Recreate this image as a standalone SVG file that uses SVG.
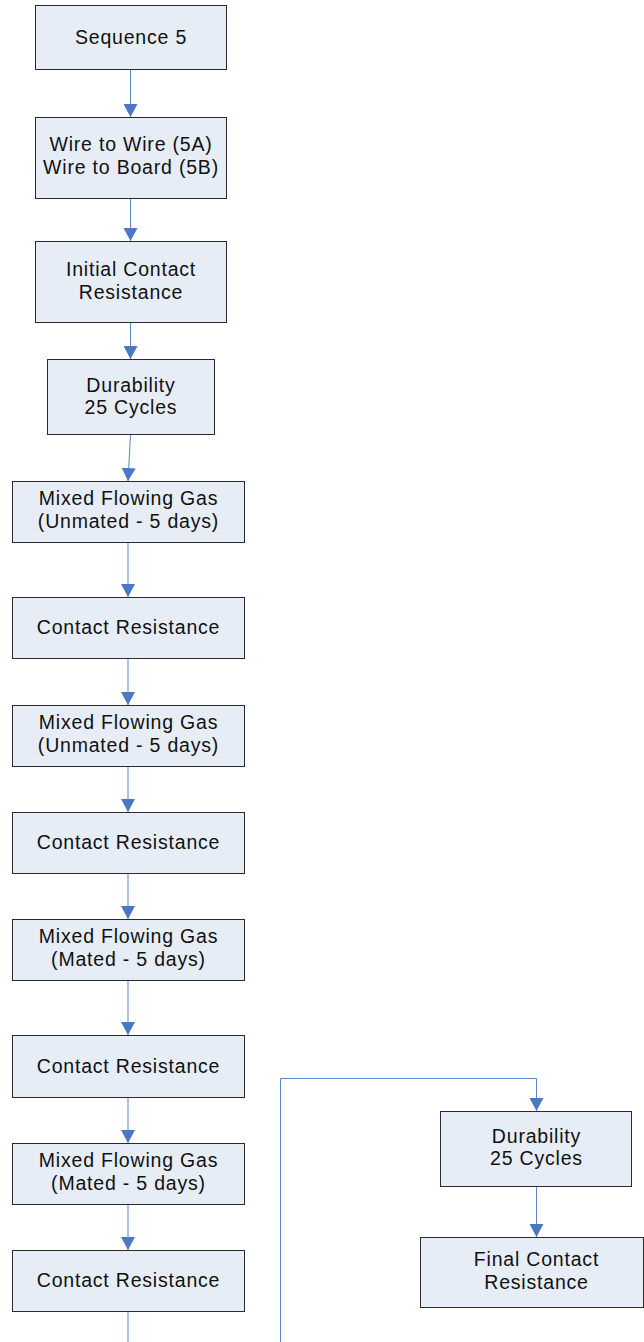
<svg xmlns="http://www.w3.org/2000/svg" width="644" height="1342" viewBox="0 0 644 1342">
<defs>
<style>
.box{fill:#E7EDF7;stroke:#2b2b2b;stroke-width:1}
.t{font-family:"Liberation Sans",Arial,sans-serif;font-size:19.5px;letter-spacing:0.8px;fill:#111;text-anchor:middle}
.c{fill:none;stroke:#5B87CC;stroke-width:1}
</style>
<marker id="ah" markerUnits="userSpaceOnUse" markerWidth="13" markerHeight="14" viewBox="0 0 12 13" refX="12" refY="6.5" orient="auto">
<path d="M0,0 L12,6.5 L0,13 z" fill="#4A78C4"/>
</marker>
</defs>
<rect width="644" height="1342" fill="#ffffff"/>
<g id="connectors">
<line class="c" x1="130.5" y1="69.5" x2="130.5" y2="117" marker-end="url(#ah)"/>
<line class="c" x1="130.5" y1="198.5" x2="130.5" y2="241" marker-end="url(#ah)"/>
<line class="c" x1="130.5" y1="322.5" x2="130.5" y2="359" marker-end="url(#ah)"/>
<line class="c" x1="130.5" y1="434.5" x2="128" y2="481" marker-end="url(#ah)"/>
<line class="c" x1="128" y1="542.5" x2="128" y2="597" marker-end="url(#ah)"/>
<line class="c" x1="128" y1="658.5" x2="128" y2="705" marker-end="url(#ah)"/>
<line class="c" x1="128" y1="766.5" x2="128" y2="812" marker-end="url(#ah)"/>
<line class="c" x1="128" y1="873.5" x2="128" y2="919" marker-end="url(#ah)"/>
<line class="c" x1="128" y1="980.5" x2="128" y2="1035" marker-end="url(#ah)"/>
<line class="c" x1="128" y1="1097.5" x2="128" y2="1143" marker-end="url(#ah)"/>
<line class="c" x1="128" y1="1204.5" x2="128" y2="1250" marker-end="url(#ah)"/>
<line class="c" x1="128" y1="1311.5" x2="128" y2="1342"/>
<polyline class="c" points="280.5,1342 280.5,1078.5 536.5,1078.5 536.5,1111" marker-end="url(#ah)"/>
<line class="c" x1="536.5" y1="1186.5" x2="536.5" y2="1237" marker-end="url(#ah)"/>
</g>
<g id="n1"><rect class="box" x="35.5" y="5.5" width="191" height="64"/><text class="t" x="131" y="43.5">Sequence 5</text></g>
<g id="n2"><rect class="box" x="35.5" y="117.5" width="191" height="81"/><text class="t" x="131" y="151">Wire to Wire (5A)</text><text class="t" x="131" y="174">Wire to Board (5B)</text></g>
<g id="n3"><rect class="box" x="35.5" y="241.5" width="191" height="81"/><text class="t" x="131" y="275.5">Initial Contact</text><text class="t" x="131" y="298.5">Resistance</text></g>
<g id="n4"><rect class="box" x="47.5" y="359.5" width="167" height="75"/><text class="t" x="131" y="391.5">Durability</text><text class="t" x="131" y="413.5">25 Cycles</text></g>
<g id="n5"><rect class="box" x="12.5" y="481.5" width="232" height="61"/><text class="t" x="128.5" y="505">Mixed Flowing Gas</text><text class="t" x="128.5" y="528">(Unmated - 5 days)</text></g>
<g id="n6"><rect class="box" x="12.5" y="597.5" width="232" height="61"/><text class="t" x="128.5" y="634">Contact Resistance</text></g>
<g id="n7"><rect class="box" x="12.5" y="705.5" width="232" height="61"/><text class="t" x="128.5" y="729">Mixed Flowing Gas</text><text class="t" x="128.5" y="752">(Unmated - 5 days)</text></g>
<g id="n8"><rect class="box" x="12.5" y="812.5" width="232" height="61"/><text class="t" x="128.5" y="849">Contact Resistance</text></g>
<g id="n9"><rect class="box" x="12.5" y="919.5" width="232" height="61"/><text class="t" x="128.5" y="943">Mixed Flowing Gas</text><text class="t" x="128.5" y="966">(Mated - 5 days)</text></g>
<g id="n10"><rect class="box" x="12.5" y="1035.5" width="232" height="62"/><text class="t" x="128.5" y="1072.5">Contact Resistance</text></g>
<g id="n11"><rect class="box" x="12.5" y="1143.5" width="232" height="61"/><text class="t" x="128.5" y="1167">Mixed Flowing Gas</text><text class="t" x="128.5" y="1190">(Mated - 5 days)</text></g>
<g id="n12"><rect class="box" x="12.5" y="1250.5" width="232" height="61"/><text class="t" x="128.5" y="1287">Contact Resistance</text></g>
<g id="n13"><rect class="box" x="440.5" y="1111.5" width="191" height="75"/><text class="t" x="536.5" y="1142.5">Durability</text><text class="t" x="536.5" y="1165">25 Cycles</text></g>
<g id="n14"><rect class="box" x="420.5" y="1237.5" width="223" height="70"/><text class="t" x="536.5" y="1265.5">Final Contact</text><text class="t" x="536.5" y="1288.5">Resistance</text></g>
</svg>
